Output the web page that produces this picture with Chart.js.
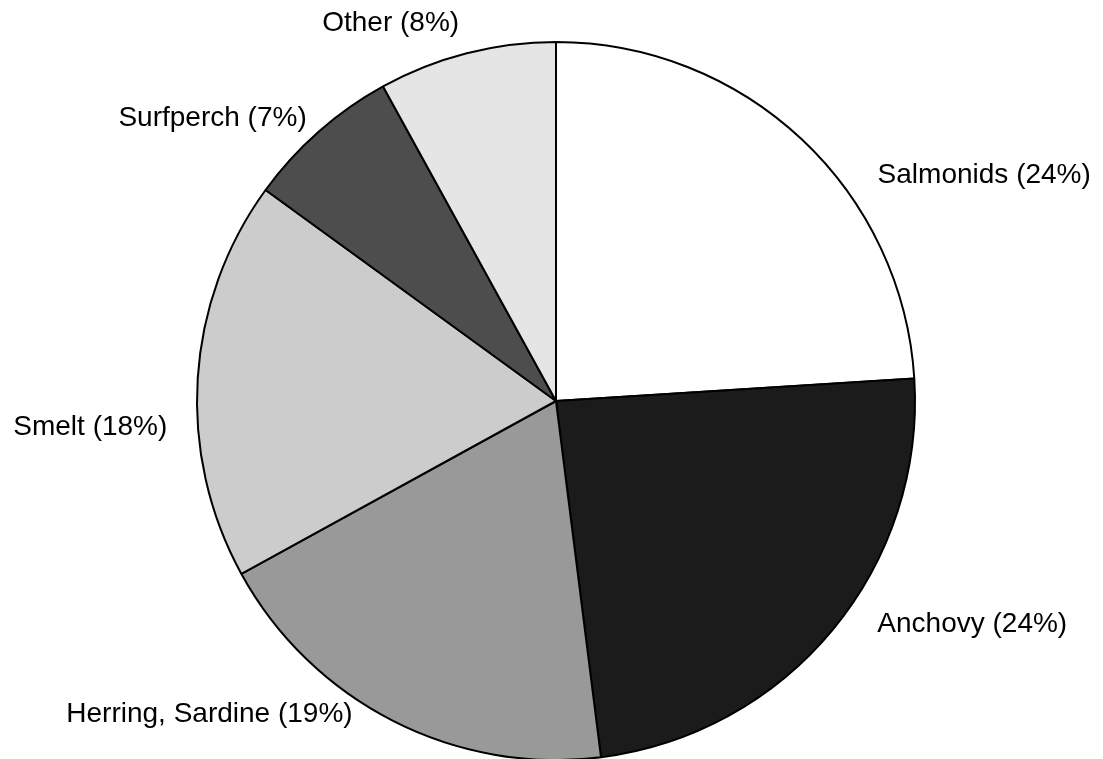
<!DOCTYPE html>
<html>
<head>
<meta charset="utf-8">
<script src="https://cdn.jsdelivr.net/npm/chart.js@4/dist/chart.umd.min.js"></script>
<style>
    html, body { margin: 0; padding: 0; background: #ffffff; }
    #wrap { width: 1103px; height: 759px; position: relative; }
</style>
</head>
<body>
<div id="wrap"><canvas id="fishChart"></canvas></div>
<script>
// data
const categories = ['Salmonids', 'Anchovy', 'Herring, Sardine', 'Smelt', 'Surfperch', 'Other'];
const shares = [24, 24, 19, 18, 7, 8];
const sliceColors = ['#ffffff', '#1b1b1b', '#999999', '#cccccc', '#4d4d4d', '#e5e5e5'];

// outside labels: text sits along the slice middle, pushed a bit where the original moved it
const outsideLabels = {
    id: 'outsideLabels',
    afterDatasetsDraw(chart, args, opts) {
        const ctx = chart.ctx;
        const meta = chart.getDatasetMeta(0);
        ctx.save();
        ctx.font = opts.font;
        ctx.fillStyle = '#000000';
        ctx.textBaseline = 'middle';
        meta.data.forEach((arc, i) => {
            const p = arc.getProps(['x', 'y', 'startAngle', 'endAngle', 'outerRadius'], true);
            const shift = (opts.angleShift[i] || 0) * Math.PI / 180;
            const a = (p.startAngle + p.endAngle) / 2 + shift;
            const r = p.outerRadius * (opts.radiusFactor[i] || 1.08);
            const x = p.x + r * Math.cos(a);
            const y = p.y + r * Math.sin(a);
            ctx.textAlign = Math.cos(a) >= 0 ? 'left' : 'right';
            const label = chart.data.labels[i] + ' (' + chart.data.datasets[0].data[i] + '%)';
            ctx.fillText(label, x, y);
        });
        ctx.restore();
    }
};

const ctx = document.getElementById('fishChart').getContext('2d');
const fishChart = new Chart(ctx, {
    type: 'pie',
    data: {
        labels: categories,
        datasets: [{
            data: shares,
            backgroundColor: sliceColors,
            borderColor: '#000000',
            borderWidth: 2,
            radius: 359
        }]
    },
    options: {
        responsive: true,
        maintainAspectRatio: false,
        animation: false,
        layout: {
            padding: { left: 9, right: 0, top: 43, bottom: 0 }
        },
        plugins: {
            legend: { display: false },
            tooltip: { enabled: false },
            outsideLabels: {
                font: '28px "Liberation Sans", Arial, sans-serif',
                angleShift: [11.7, -4.8, 6, -7.4, 0, 0],
                radiusFactor: [1.095, 1.09, 1.04, 1.085, 1.05, 1.085]
            }
        }
    },
    plugins: [outsideLabels]
});
</script>
</body>
</html>
